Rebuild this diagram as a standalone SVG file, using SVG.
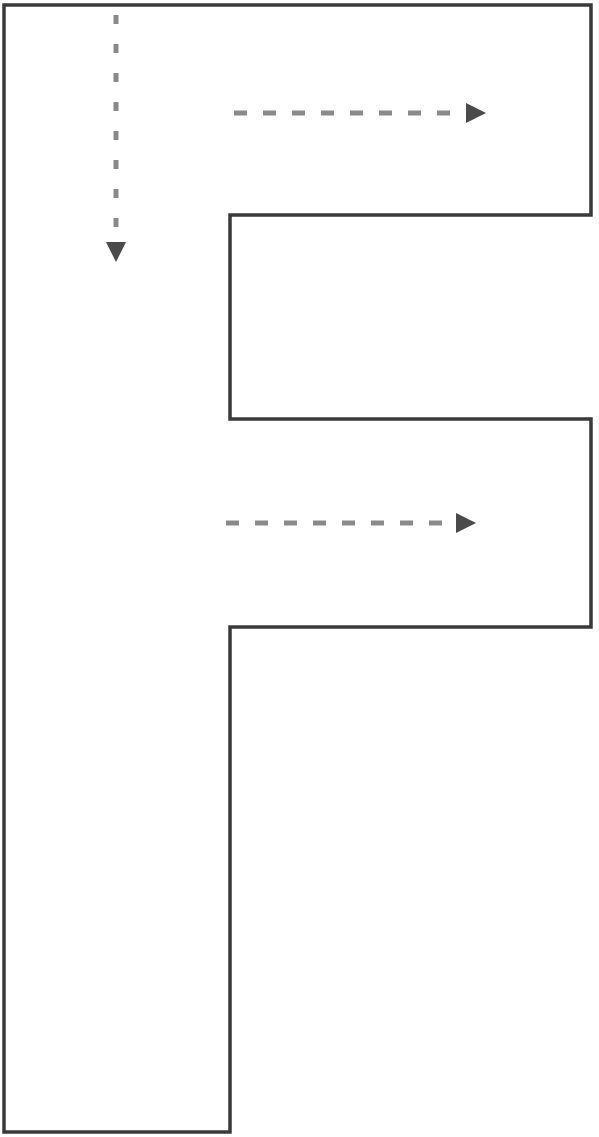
<svg xmlns="http://www.w3.org/2000/svg" width="599" height="1137" viewBox="0 0 599 1137">
<style>
.outline{fill:#ffffff;stroke:#3a3a3a;stroke-width:3.5;stroke-linejoin:miter}
.dash{fill:none;stroke:#8a8a8a;stroke-width:5;stroke-dasharray:13 16}
.vdash{fill:none;stroke:#8a8a8a;stroke-width:5;stroke-dasharray:9 20}
</style>
<defs>
<marker id="ah" viewBox="0 0 10 10" refX="2" refY="5" markerWidth="4" markerHeight="4" orient="auto" markerUnits="strokeWidth">
<path d="M0,0 L10,5 L0,10 Z" fill="#4a4a4a"/>
</marker>
</defs>
<rect width="599" height="1137" fill="#ffffff"/>
<g id="f-shape">
<path class="outline" d="M4,5 L591,5 L591,215 L230,215 L230,419 L591,419 L591,627 L230,627 L230,1132 L4,1132 Z"/>
</g>
<g id="connectors">
<path class="vdash" d="M116,15 L116,246" marker-end="url(#ah)"/>
<path class="dash" d="M234,113 L470,113" marker-end="url(#ah)"/>
<path class="dash" d="M226,523 L460,523" marker-end="url(#ah)"/>
</g>
</svg>
